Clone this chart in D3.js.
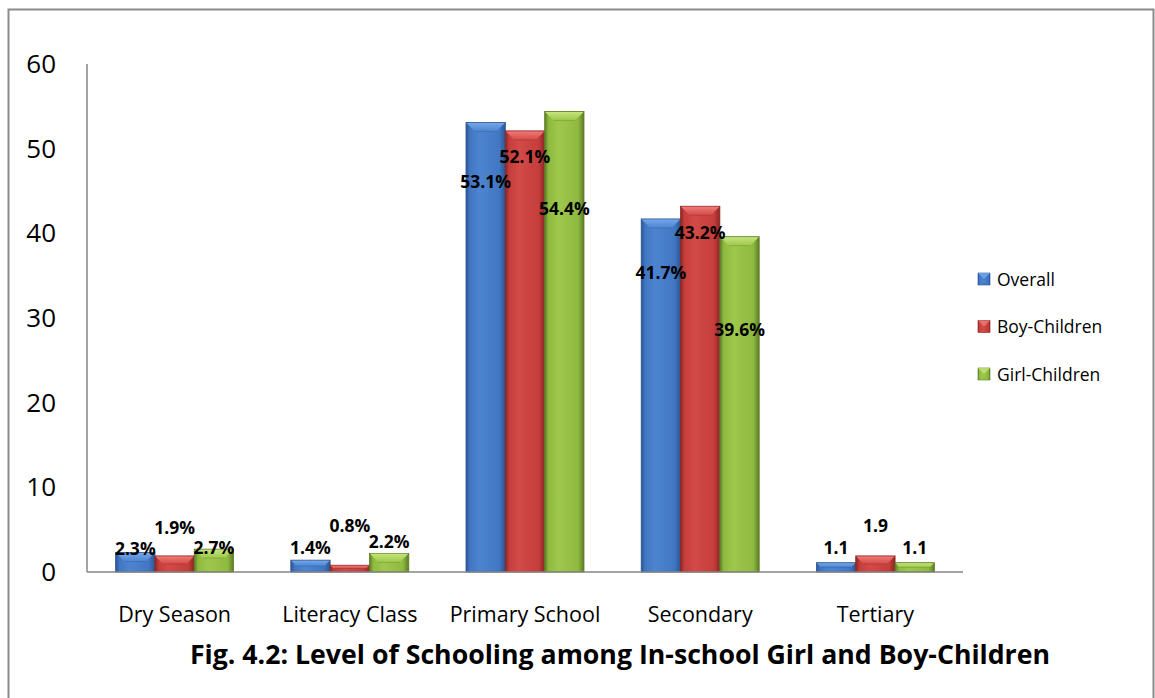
<!DOCTYPE html>
<html>
<head>
<meta charset="utf-8">
<script src="https://cdnjs.cloudflare.com/ajax/libs/d3/7.8.5/d3.min.js"></script>
<style>
  html, body { margin: 0; padding: 0; background: #fff; }
  svg { display: block; }
  text { font-family: "Open Sans", "DejaVu Sans", sans-serif; }
</style>
</head>
<body>
<svg id="chart" width="1155" height="698"></svg>
<script>
// Level of schooling, in-school children (percent)
const categories = ["Dry Season", "Literacy Class", "Primary School", "Secondary", "Tertiary"];
const seriesNames = ["Overall", "Boy-Children", "Girl-Children"];
const overall = [2.3, 1.4, 53.1, 41.7, 1.1];
const boys    = [1.9, 0.8, 52.1, 43.2, 1.9];
const girls   = [2.7, 2.2, 54.4, 39.6, 1.1];
const labelText = [
  ["2.3%", "1.4%", "53.1%", "41.7%", "1.1"],
  ["1.9%", "0.8%", "52.1%", "43.2%", "1.9"],
  ["2.7%", "2.2%", "54.4%", "39.6%", "1.1"]
];
const yTicks = [0, 10, 20, 30, 40, 50, 60];
const title = "Fig. 4.2: Level of Schooling among In-school Girl and Boy-Children";

// label baseline offsets from each bar's top (px), per series then category
const labelDy = [
  [2, -6, 66, 60, -9],
  [-22, -33, 32, 33, -24],
  [5, -5, 104, 99, -9]
];

const colors = [
  { base: "#4176c2", light: "#4d84d0", dark: "#2b5594", top: "#74a6ea" },
  { base: "#c53e3c", light: "#d34a47", dark: "#8c2624", top: "#ef7a77" },
  { base: "#8fba40", light: "#9dc84c", dark: "#5d7c25", top: "#c4e47a" }
];

const values = [overall, boys, girls];
const svg = d3.select("#chart");
const defs = svg.append("defs");

colors.forEach((c, i) => {
  const g = defs.append("linearGradient").attr("id", "grad" + i)
    .attr("x1", "0").attr("x2", "1").attr("y1", "0").attr("y2", "0");
  g.append("stop").attr("offset", "0").attr("stop-color", c.dark);
  g.append("stop").attr("offset", "0.1").attr("stop-color", c.base);
  g.append("stop").attr("offset", "0.35").attr("stop-color", c.light);
  g.append("stop").attr("offset", "0.85").attr("stop-color", c.base);
  g.append("stop").attr("offset", "1").attr("stop-color", c.dark);
  const t = defs.append("linearGradient").attr("id", "top" + i)
    .attr("x1", "0").attr("x2", "0").attr("y1", "0").attr("y2", "1");
  t.append("stop").attr("offset", "0").attr("stop-color", c.top);
  t.append("stop").attr("offset", "1").attr("stop-color", c.light);
});

// outer frame
svg.append("path")
  .attr("d", "M8.5,698 L8.5,9.5 L1153.5,9.5 L1153.5,698")
  .attr("fill", "none").attr("stroke", "#8a8a8a").attr("stroke-width", 2);

const plot = { left: 87, right: 963, top: 64, bottom: 572 };

const x0 = d3.scaleBand().domain(categories).range([plot.left, plot.right]).padding(0);
const groupW = 118;
const x1 = d3.scaleBand().domain(seriesNames).range([0, groupW]).padding(0);
const y = d3.scaleLinear().domain([0, 60]).range([plot.bottom, plot.top]);

// y tick labels
svg.append("g").selectAll("text").data(yTicks).join("text")
  .attr("x", 56).attr("y", d => y(d) + 9)
  .attr("text-anchor", "end")
  .attr("font-size", 26)
  .attr("fill", "#000")
  .text(d => d);

// bars with bevelled tops
const bw = x1.bandwidth();
seriesNames.forEach((s, si) => {
  const g = svg.append("g");
  categories.forEach((cat, ci) => {
    const v = values[si][ci];
    const bx = x0(cat) + (x0.bandwidth() - groupW) / 2 + x1(s);
    const by = y(v);
    const bh = y(0) - by;
    g.append("rect")
      .attr("x", bx).attr("y", by).attr("width", bw).attr("height", bh)
      .attr("fill", `url(#grad${si})`)
      .attr("stroke", colors[si].dark).attr("stroke-width", 0.8);
    const bev = Math.min(9, bh / 2);
    g.append("path")
      .attr("d", `M${bx + 0.5},${by + 0.5} L${bx + bw - 0.5},${by + 0.5} L${bx + bw - bev},${by + bev} L${bx + bev},${by + bev} Z`)
      .attr("fill", `url(#top${si})`);
    g.append("path")
      .attr("d", `M${bx + bev},${by + bev} L${bx + bw - bev},${by + bev}`)
      .attr("stroke", colors[si].dark).attr("stroke-opacity", 0.35).attr("stroke-width", 1);
  });
});

// axes lines
svg.append("line")
  .attr("x1", plot.left).attr("x2", plot.left)
  .attr("y1", plot.top).attr("y2", plot.bottom)
  .attr("stroke", "#868686").attr("stroke-width", 1.5);
svg.append("line")
  .attr("x1", plot.left).attr("x2", plot.right)
  .attr("y1", plot.bottom).attr("y2", plot.bottom)
  .attr("stroke", "#868686").attr("stroke-width", 1.5);

// data labels
seriesNames.forEach((s, si) => {
  categories.forEach((cat, ci) => {
    const v = values[si][ci];
    const cx = x0(cat) + (x0.bandwidth() - groupW) / 2 + x1(s) + bw / 2;
    svg.append("text")
      .attr("x", cx).attr("y", y(v) + labelDy[si][ci])
      .attr("text-anchor", "middle")
      .attr("font-size", 17.5).attr("font-weight", "bold")
      .attr("fill", "#000")
      .text(labelText[si][ci]);
  });
});

// category labels
svg.append("g").selectAll("text").data(categories).join("text")
  .attr("x", d => x0(d) + x0.bandwidth() / 2)
  .attr("y", 622)
  .attr("text-anchor", "middle")
  .attr("font-size", 21.5)
  .attr("fill", "#000")
  .text(d => d);

// title
svg.append("text")
  .attr("x", 620).attr("y", 664)
  .attr("text-anchor", "middle")
  .attr("font-size", 26.7).attr("font-weight", "bold")
  .attr("fill", "#000")
  .text(title);

// legend
const leg = svg.append("g");
seriesNames.forEach((s, si) => {
  const ly = 273 + si * 47.5;
  leg.append("rect").attr("x", 978).attr("y", ly).attr("width", 12).attr("height", 12)
    .attr("fill", `url(#grad${si})`).attr("stroke", colors[si].dark).attr("stroke-width", 0.6);
  leg.append("path")
    .attr("d", `M978,${ly} L990,${ly} L984,${ly + 6} Z`)
    .attr("fill", colors[si].top).attr("opacity", 0.8);
  leg.append("text").attr("x", 997).attr("y", ly + 12.5)
    .attr("font-size", 17.5).attr("fill", "#000").text(s);
});
</script>
</body>
</html>
